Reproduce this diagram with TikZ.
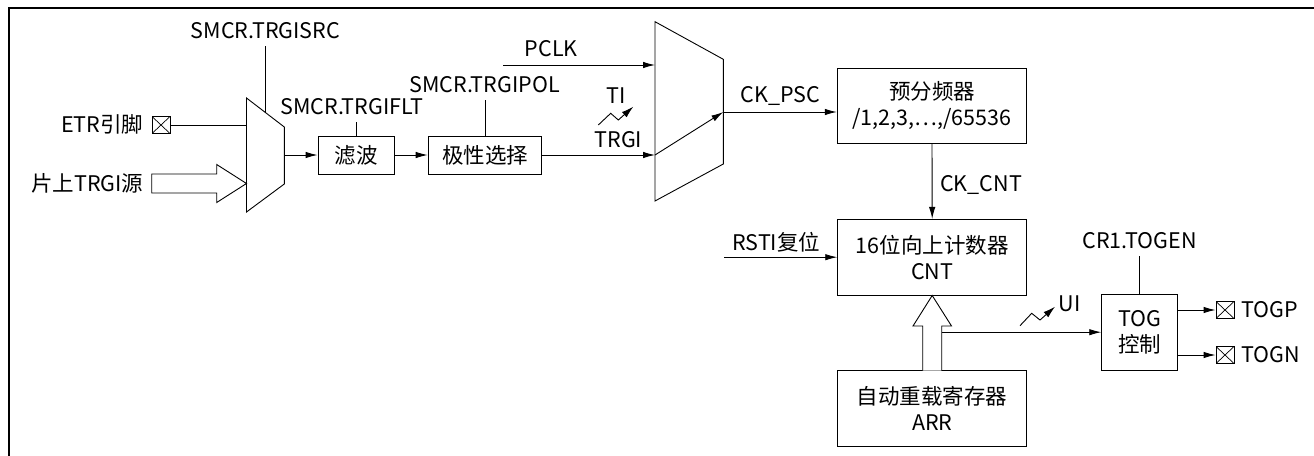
\documentclass[tikz,border=0pt]{standalone}
\usepackage{fontspec}
\setmainfont{Noto Sans CJK SC}
\usetikzlibrary{arrows.meta, positioning, calc}
\tikzset{
  blk/.style    = {draw, line width=0.9pt, inner sep=0pt, align=center},
  lbl/.style    = {inner sep=0pt, text height=15pt, text depth=0pt},
  wire/.style   = {line width=0.9pt},
  flow/.style   = {-{Latex[length=12pt, width=6.5pt]}, line width=0.9pt},
  ctrl/.style   = {line width=0.9pt, shorten >=7.5pt},
  hollow/.style = {draw, line width=0.9pt, fill=white, line join=miter},
  pin/.style    = {draw, line width=0.9pt, minimum width=18pt, minimum height=17pt, inner sep=0pt,
                   path picture={\draw[line width=0.7pt]
                     (path picture bounding box.south west) -- (path picture bounding box.north east)
                     (path picture bounding box.north west) -- (path picture bounding box.south east);}},
}

\begin{document}
\begin{tikzpicture}[x=1pt, y=-1pt, every node/.style={font=\fontsize{21.5}{26}\selectfont}]
\useasboundingbox (0,0) rectangle (1314,455);
\draw[line width=1.6pt] (1316,8) -- (9,8) -- (9,457);

% first selector
\coordinate (m1tl) at (246.5,98);
\coordinate (m1tr) at (284.3,127);
\coordinate (m1br) at (284.3,184);
\coordinate (m1bl) at (246.5,212);
\draw[wire] (m1tl) -- (m1tr) -- (m1br) -- (m1bl) -- cycle;
\coordinate (m1out) at (284.3,155);
\coordinate (m1sel) at ($(m1tl)!0.5!(m1tr)$);

\node[pin] (etrpin) at (161,125) {};
\node[lbl, anchor=east] (etr) at (143.5,125) {ETR引脚};
\node[lbl, anchor=east] (trgsrc) at (143.5,183.5) {片上TRGI源};
\node[lbl] (selsrc) at (265.5,31) {SMCR.TRGISRC};
\draw[wire] (etrpin.east) -- (m1tl |- etrpin);
\draw[hollow] (151.7,174) -- (216.7,174) -- (216.7,164.5) -- (246.5,183.5)
  -- (216.7,202.5) -- (216.7,193) -- (151.7,193) -- cycle;
\draw[ctrl] (m1sel) -- (m1sel |- selsrc.south);

% filter and polarity
\node[blk, minimum width=76pt, minimum height=38pt] (filt) at (356,155) {滤波};
\node[blk, minimum width=113.7pt, minimum height=38pt] (pol) at (485,155) {极性选择};
\node[lbl] (fltlbl) at (351.7,106.7) {SMCR.TRGIFLT};
\node[lbl] (pollbl) at (484.7,85) {SMCR.TRGIPOL};
\draw[ctrl] (filt.north) -- (filt.north |- fltlbl.south);
\draw[ctrl] (pol.north) -- (pol.north |- pollbl.south);
\draw[flow] (m1out) -- (filt.west);
\draw[flow] (filt) -- (pol);

% clock selector
\coordinate (m2tl) at (655,21.7);
\coordinate (m2tr) at (723.3,59.3);
\coordinate (m2br) at (723.3,164);
\coordinate (m2bl) at (655,201);
\draw[wire] (m2tl) -- (m2tr) -- (m2br) -- (m2bl) -- cycle;
\coordinate (m2in) at (655,155);
\coordinate (m2out) at (723.3,112);
\coordinate (pclkin) at (503,65);

\node[lbl] (pclk) at (551.3,48.8) {PCLK};
\node[lbl] (ti) at (616,96.3) {TI};
\node[lbl] (trgi) at (618.3,139.7) {TRGI};
\draw[flow] (pclkin) -- (pclkin -| m2tl);
\draw[flow] (pol.east) -- (m2in);
\draw[-{Latex[length=12pt, width=7pt]}, wire] (598.3,125) -- ++(12.4,-11.7) -- ++(7.6,6.7) -- ++(15,-13.3);
\draw[flow] (m2in) -- (m2out);

% prescaler and counter
\node[blk, minimum width=189.4pt, minimum height=75pt] (psc) at (932,105.8)
  {预分频器\\/1,2,3,…,/65536};
\node[blk, minimum width=189pt, minimum height=75.7pt] (cnt) at (932.2,257.2)
  {16位向上计数器\\CNT};
\node[blk, minimum width=189pt, minimum height=76pt] (arr) at (932.2,408.7)
  {自动重载寄存器\\ARR};
\node[lbl] (ckpsc) at (780.3,94.5) {CK\_PSC};
\node[lbl, anchor=west] (ckcnt) at (940,184) {CK\_CNT};
\node[lbl] (rst) at (776.3,242.5) {RSTI复位};
\coordinate (rstin) at (724,257.2);
\draw[flow] (m2out) -- (m2out -| psc.west);
\draw[flow] (psc.south) -- (cnt.north);
\draw[flow] (rstin) -- (cnt.west);
\draw[hollow] (922.7,370.7) -- (922.7,326) -- (913,326) -- (cnt.south)
  -- (951.5,326) -- (941.7,326) -- (941.7,370.7);

% toggle output
\node[blk, minimum width=76pt, minimum height=75.7pt] (tog) at (1139.7,332.2) {TOG\\控制};
\node[lbl] (togen) at (1139.7,240.8) {CR1.TOGEN};
\node[lbl] (ui) at (1069.7,304) {UI};
\node[pin] (pinp) at (1225,310) {};
\node[pin] (pinn) at (1225,355) {};
\node[lbl, right=7pt of pinp] (togp) {TOGP};
\node[lbl, right=7pt of pinn] (togn) {TOGN};
\coordinate (uiout) at (941.7,332.2);
\draw[ctrl] (tog.north) -- (tog.north |- togen.south);
\draw[flow] (uiout) -- (tog.west);
\draw[-{Latex[length=12pt, width=7pt]}, wire] (1020,325.7) -- ++(11.7,-12.4) -- ++(8.3,6.7) -- ++(15,-13.3);
\foreach \p in {pinp, pinn}
  \draw[flow] (tog.east |- \p) -- (\p.west);

\end{tikzpicture}
\end{document}
